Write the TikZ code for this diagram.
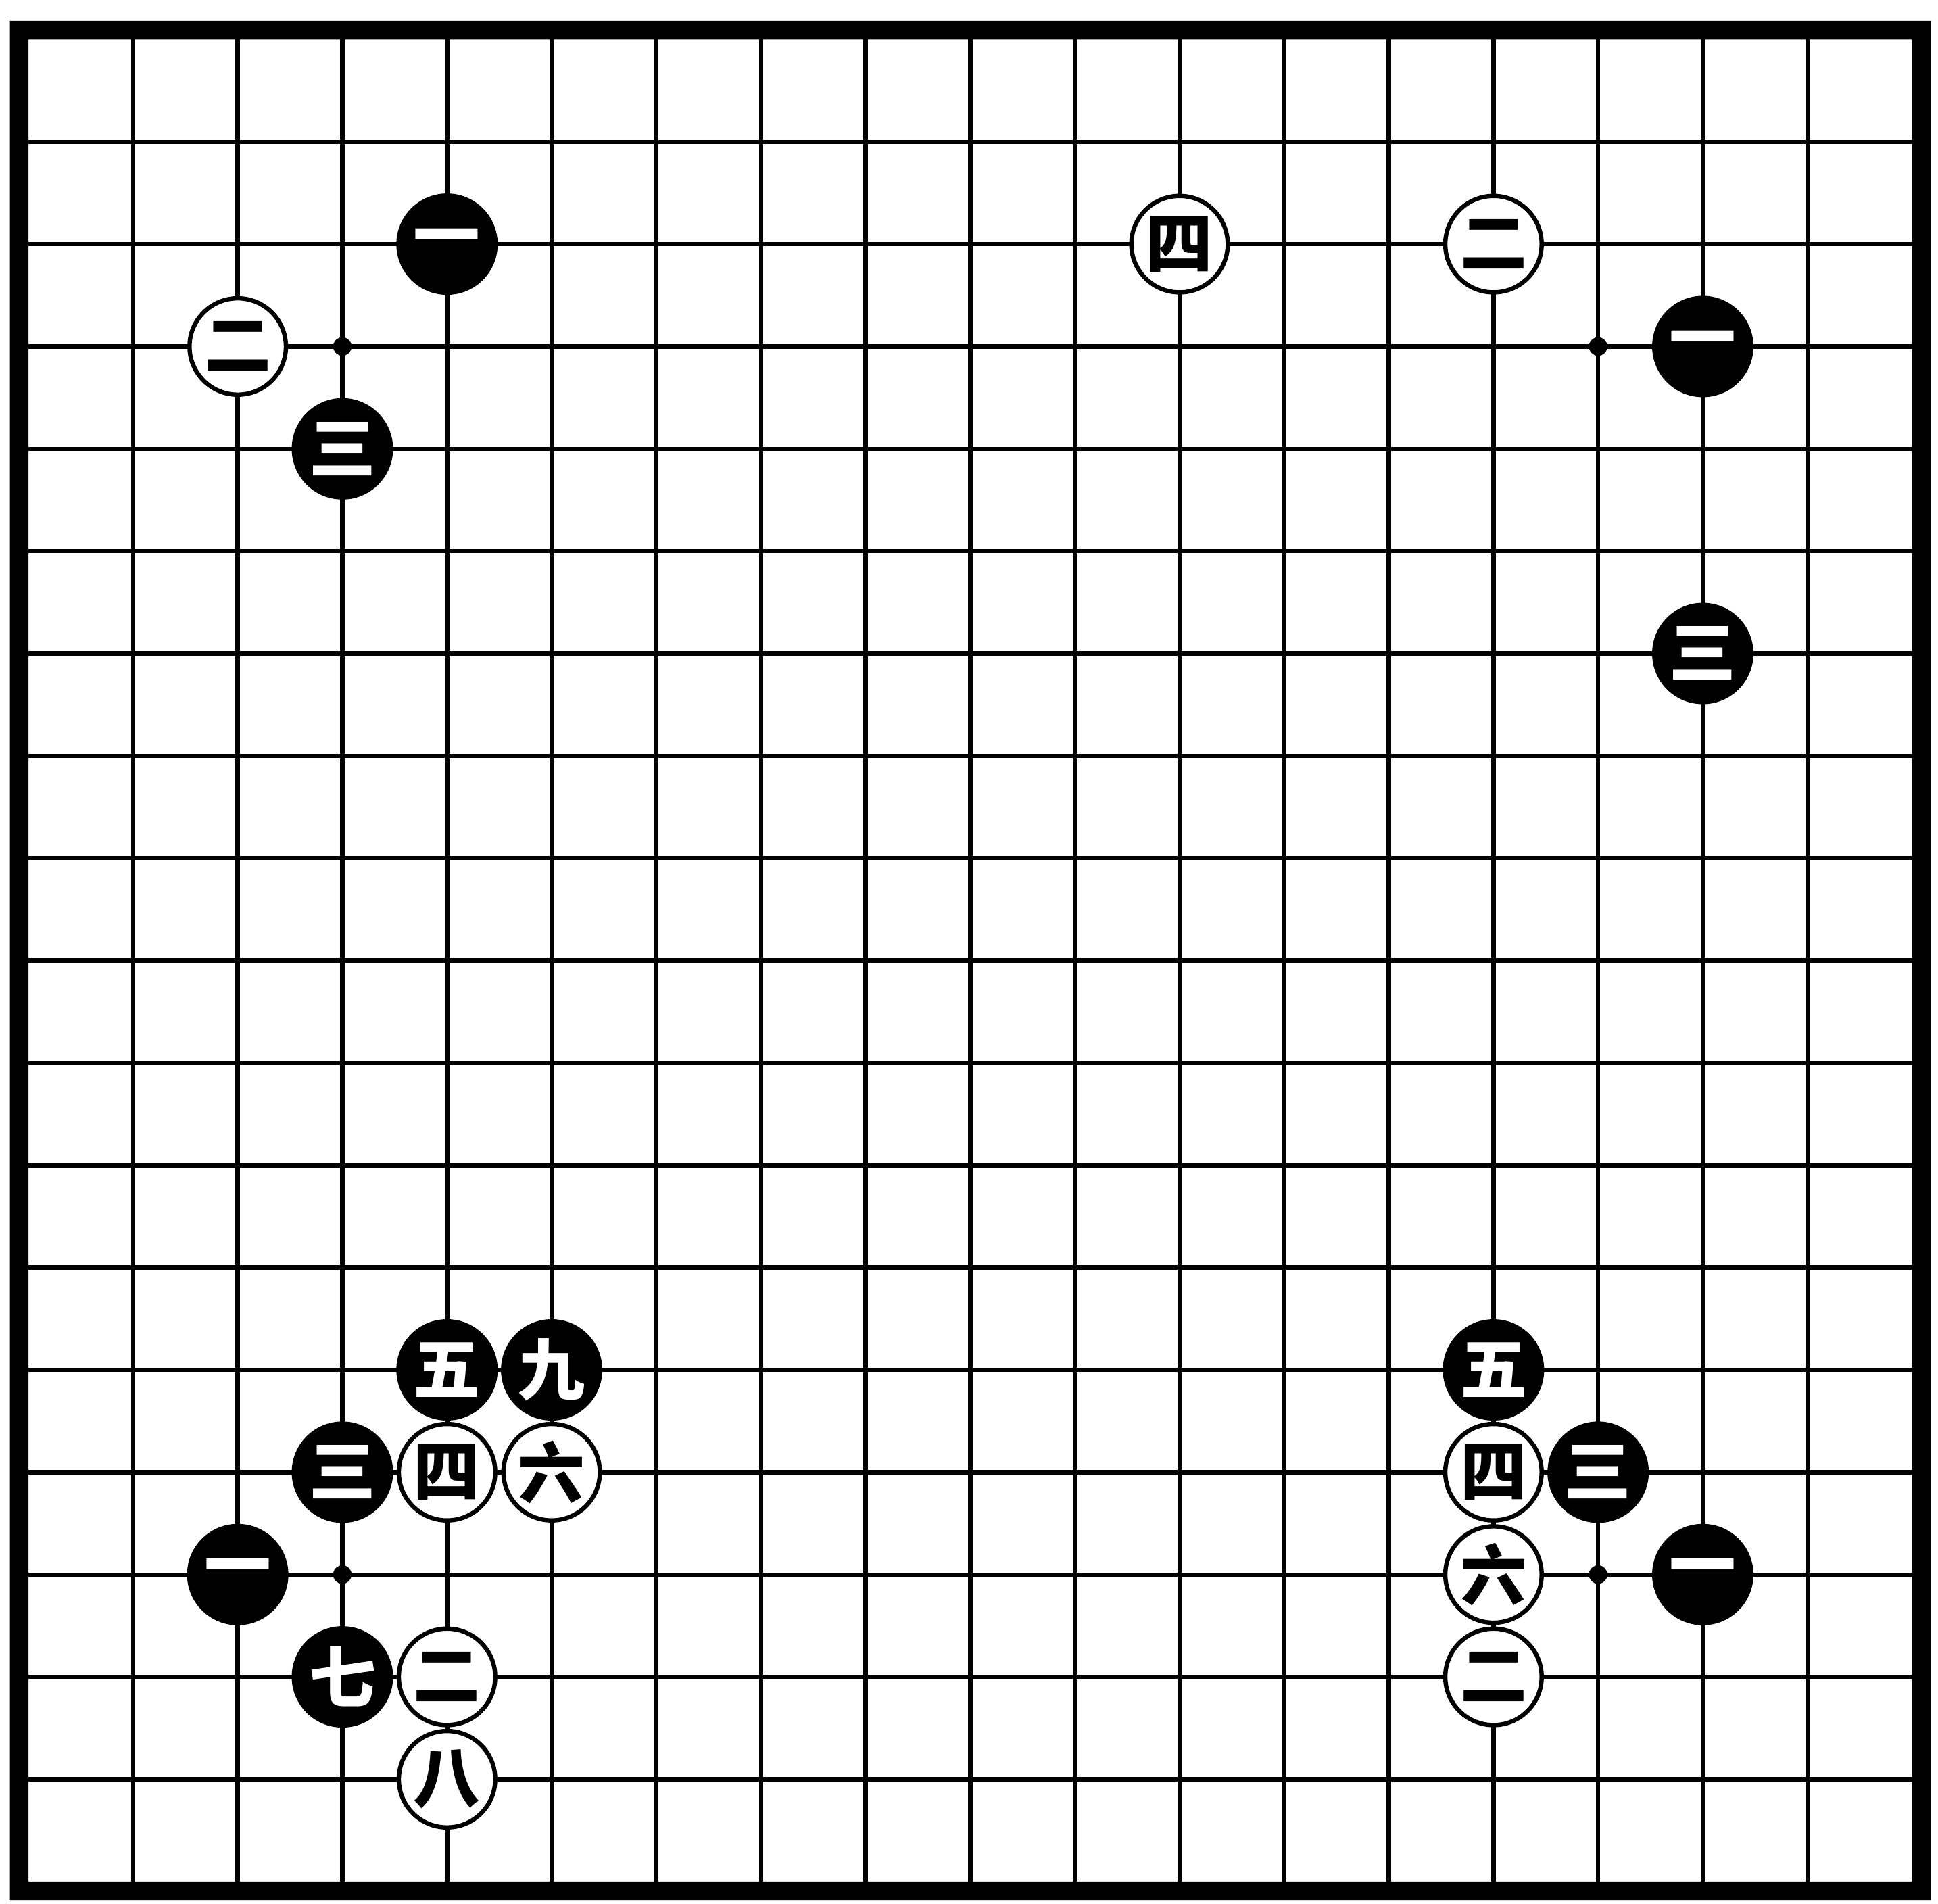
\documentclass[tikz,border=0pt]{standalone}
\usepackage{fontspec}
\newfontfamily\cjk{Noto Sans CJK SC}
\begin{document}
\begin{tikzpicture}[x=84.667pt,y=82.778pt,
  bstone/.style={circle,fill=black,minimum size=82pt,inner sep=0pt,text=white,font=\cjk\bfseries\fontsize{54}{54}\selectfont},
  wstone/.style={circle,draw=black,line width=3.5pt,fill=white,minimum size=78pt,inner sep=0pt,font=\cjk\bfseries\fontsize{54}{54}\selectfont},
  hoshi/.style={circle,fill=black,inner sep=0pt,minimum size=15pt}]
  \useasboundingbox (-0.2717,-0.2174) rectangle (18.248,18.386);
  \fill[even odd rule] ([shift={(-15pt,-15pt)}]0,0) rectangle ([shift={(15pt,15pt)}]18,18) (0,0) rectangle (18,18);
  \foreach \i in {1,...,17} {
    \draw[line width=3.5pt] (\i,0) -- (\i,18);
    \draw[line width=3.5pt] (0,\i) -- (18,\i);
  }
  \node[hoshi] (h1) at (3,15) {};
  \node[hoshi] (h2) at (15,15) {};
  \node[hoshi] (h3) at (3,3) {};
  \node[hoshi] (h4) at (15,3) {};
  \node[bstone] (nw1) at (4,16) {一};
  \node[wstone] (nw2) at (2,15) {二};
  \node[bstone] (nw3) at (3,14) {三};
  \node[bstone] (ne1) at (16,15) {一};
  \node[wstone] (ne2) at (14,16) {二};
  \node[bstone] (ne3) at (16,12) {三};
  \node[wstone] (ne4) at (11,16) {四};
  \node[bstone] (sw1) at (2,3) {一};
  \node[wstone] (sw2) at (4,2) {二};
  \node[bstone] (sw3) at (3,4) {三};
  \node[wstone] (sw4) at (4,4) {四};
  \node[bstone] (sw5) at (4,5) {五};
  \node[wstone] (sw6) at (5,4) {六};
  \node[bstone] (sw7) at (3,2) {七};
  \node[wstone] (sw8) at (4,1) {八};
  \node[bstone] (sw9) at (5,5) {九};
  \node[bstone] (se1) at (16,3) {一};
  \node[wstone] (se2) at (14,2) {二};
  \node[bstone] (se3) at (15,4) {三};
  \node[wstone] (se4) at (14,4) {四};
  \node[bstone] (se5) at (14,5) {五};
  \node[wstone] (se6) at (14,3) {六};
\end{tikzpicture}
\end{document}
